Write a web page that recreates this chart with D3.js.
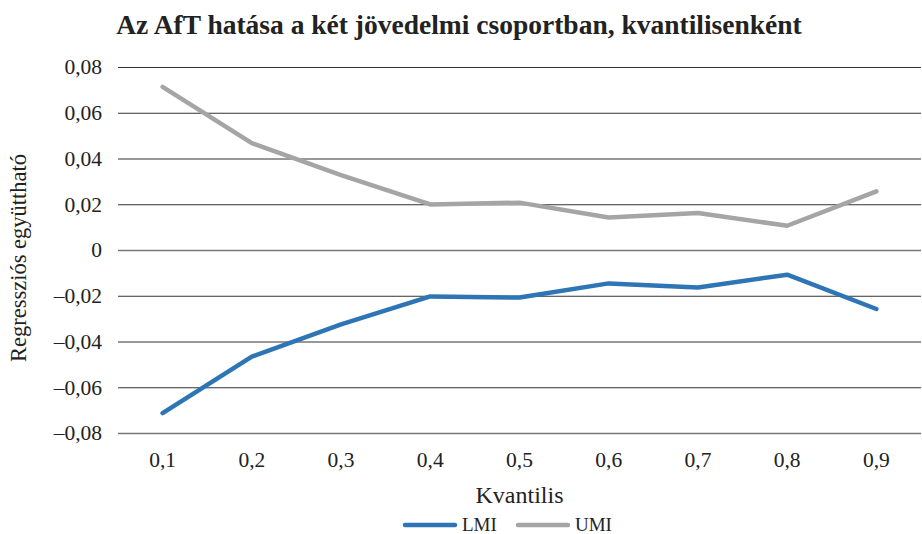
<!DOCTYPE html>
<html>
<head>
<meta charset="utf-8">
<script src="https://cdn.jsdelivr.net/npm/d3@7"></script>
<style>
  body { margin: 0; background: #fff; }
</style>
</head>
<body>
<div id="chart"></div>
<script>
// data
var quantiles = ["0,1", "0,2", "0,3", "0,4", "0,5", "0,6", "0,7", "0,8", "0,9"];
var lmiValues = [-0.0713, -0.0466, -0.0325, -0.0203, -0.0208, -0.0146, -0.0164, -0.0108, -0.0258];
var umiValues = [0.0713, 0.0467, 0.0327, 0.0199, 0.0207, 0.0142, 0.0162, 0.0106, 0.0256];
var yTicks = [-0.08, -0.06, -0.04, -0.02, 0, 0.02, 0.04, 0.06, 0.08];
var seriesNames = ["LMI", "UMI"];
var seriesColors = ["#2E75B6", "#A5A5A5"];

var FONT = "'Liberation Serif', 'Times New Roman', serif";
var W = 922, H = 534;
var margin = { top: 67, right: 1, bottom: 101, left: 118 };
var width = W - margin.left - margin.right;
var height = H - margin.top - margin.bottom;

var svg = d3.select("#chart").append("svg")
  .attr("width", W)
  .attr("height", H);

// title
svg.append("text")
  .attr("x", 459)
  .attr("y", 34)
  .attr("text-anchor", "middle")
  .style("font-family", FONT)
  .style("font-size", "27.5px")
  .style("font-weight", "bold")
  .attr("fill", "#222")
  .text("Az AfT hatása a két jövedelmi csoportban, kvantilisenként");

var g = svg.append("g")
  .attr("transform", "translate(" + margin.left + "," + margin.top + ")");

var xScale = d3.scaleBand().domain(quantiles).range([0, width]);
var yScale = d3.scaleLinear().domain([-0.08, 0.08]).range([height, 0]);

var fmt = function(d) {
  if (d === 0) return "0";
  return (d < 0 ? "\u2013" : "") + d3.format(".2f")(Math.abs(d)).replace(".", ",");
};

// gridlines + y labels
var yAxis = d3.axisLeft(yScale)
  .tickValues(yTicks)
  .tickSize(-width)
  .tickPadding(16)
  .tickFormat(fmt);
var yAxisG = g.append("g").call(yAxis);
yAxisG.select(".domain").remove();
yAxisG.selectAll(".tick line")
  .attr("stroke", function(d) { return (d === 0 || d === -0.08) ? "#777" : "#333"; })
  .attr("stroke-width", function(d) { return (d === 0 || d === -0.08) ? 1.5 : 1; });
yAxisG.selectAll(".tick text")
  .style("font-family", FONT)
  .style("font-size", "21.5px")
  .attr("fill", "#222");

// x labels
var xAxis = d3.axisBottom(xScale).tickSize(0).tickPadding(19);
var xAxisG = g.append("g")
  .attr("transform", "translate(0," + height + ")")
  .call(xAxis);
xAxisG.select(".domain").remove();
xAxisG.selectAll(".tick text")
  .style("font-family", FONT)
  .style("font-size", "21.5px")
  .attr("fill", "#222");

// axis titles
svg.append("text")
  .attr("x", margin.left + width / 2)
  .attr("y", 503)
  .attr("text-anchor", "middle")
  .style("font-family", FONT)
  .style("font-size", "24px")
  .attr("fill", "#222")
  .text("Kvantilis");

svg.append("text")
  .attr("transform", "translate(26,258) rotate(-90)")
  .attr("text-anchor", "middle")
  .style("font-family", FONT)
  .style("font-size", "22.5px")
  .attr("fill", "#222")
  .text("Regressziós együttható");

// lines
var line = d3.line()
  .x(function(d, i) { return xScale(quantiles[i]) + xScale.bandwidth() / 2; })
  .y(function(d) { return yScale(d); });

[lmiValues, umiValues].forEach(function(vals, k) {
  g.append("path")
    .datum(vals)
    .attr("fill", "none")
    .attr("stroke", seriesColors[k])
    .attr("stroke-width", 4.5)
    .attr("stroke-linecap", "round")
    .attr("stroke-linejoin", "round")
    .attr("d", line);
});

// legend
var legendX = [405, 518];
seriesNames.forEach(function(name, k) {
  svg.append("line")
    .attr("x1", legendX[k]).attr("x2", legendX[k] + 50)
    .attr("y1", 525).attr("y2", 525)
    .attr("stroke", seriesColors[k])
    .attr("stroke-width", 4.5)
    .attr("stroke-linecap", "round");
  svg.append("text")
    .attr("x", legendX[k] + 57)
    .attr("y", 531)
    .style("font-family", FONT)
    .style("font-size", "19px")
    .attr("fill", "#222")
    .text(name);
});
</script>
</body>
</html>
